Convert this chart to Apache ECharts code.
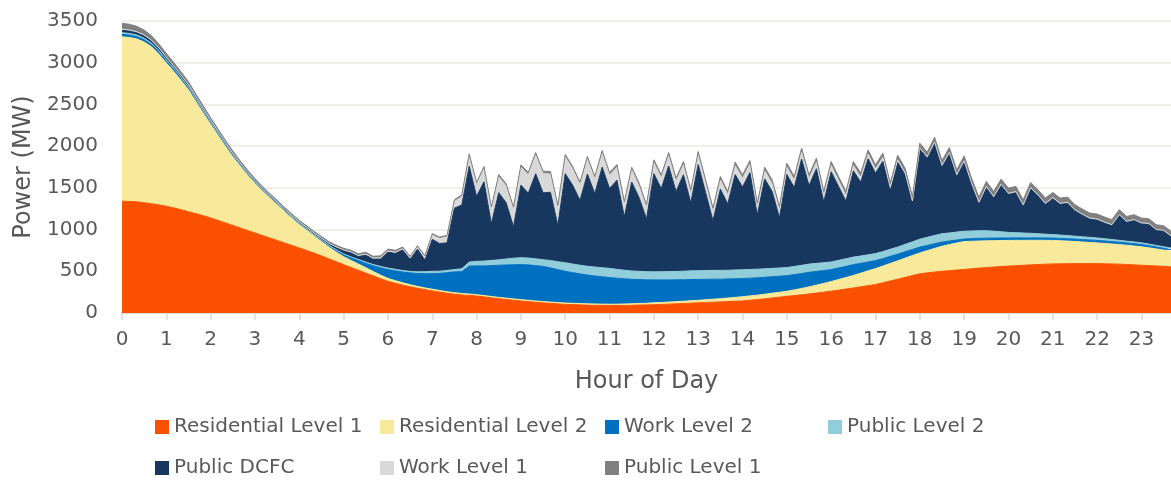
<!DOCTYPE html>
<html>
<head>
<meta charset="utf-8">
<script src="https://cdn.jsdelivr.net/npm/echarts@6/dist/echarts.min.js"></script>
<style>
  html, body { margin: 0; padding: 0; background: #ffffff; }
  #chart { width: 1171px; height: 483px; }
</style>
</head>
<body>
<div id="chart"></div>
<script>
// Charging load by segment, 10-minute steps from 0:00 to 23:40 (MW)
const hourLabels = ['0','1','2','3','4','5','6','7','8','9','10','11','12','13','14','15','16','17','18','19','20','21','22','23'];

const residentialL1 = [
  1340,1337,1333,1322,1310,1296, 1280,1260,1238,1215,1191,1166, 1140,1110,1080,1050,1020,990,
  960,930,900,870,840,810, 780,750,718,685,650,615, 580,546,512,478,445,412,
  380,356,334,314,296,280, 265,251,237,225,217,211, 205,194,183,172,163,154,
  145,137,129,122,116,110, 105,101,98,95,93,91, 90,90,91,93,95,97,
  100,103,106,110,114,118, 122,126,130,133,137,141, 145,153,161,170,180,190,
  200,209,218,228,239,250, 262,274,287,300,314,328, 342,362,384,405,427,449,
  470,481,491,500,508,515, 522,530,538,545,551,557, 562,567,572,577,581,585,
  588,590,591,592,592,592, 592,590,588,585,581,577, 572,568,564,559,553
];
const residentialL2 = [
  1970,1966,1952,1926,1880,1805, 1717,1635,1550,1460,1345,1232, 1123,1020,920,825,742,665,
  595,535,480,430,378,328, 282,245,207,172,140,115, 95,84,75,65,52,42,
  35,32,28,25,23,21, 20,19,18,18,17,16, 15,15,15,15,15,15,
  15,15,15,15,15,15, 15,15,15,15,15,15, 15,16,17,18,19,20,
  22,23,25,26,27,29, 30,33,35,38,42,46, 50,52,53,55,57,58,
  60,68,76,85,95,105, 115,127,138,150,163,177, 190,200,210,220,230,240,
  250,266,283,300,312,324, 335,330,325,320,316,312, 308,304,299,295,291,286,
  282,276,271,265,259,254, 248,244,239,235,231,226, 222,213,204,195,187
];
const workL2 = [
  30,29,29,28,27,26, 25,24,23,22,20,19, 18,17,16,15,14,13,
  12,12,11,11,11,10, 10,11,12,14,17,21, 25,33,44,55,70,88,
  105,118,130,142,155,170, 187,205,228,250,262,335, 345,355,370,385,398,410,
  420,425,424,422,410,395, 380,368,356,345,336,328, 320,311,302,293,287,281,
  275,271,266,262,258,254, 250,245,240,235,229,224, 218,213,208,203,198,193,
  188,184,179,175,165,154, 143,139,134,130,118,107, 96,90,85,80,77,73,
  70,63,57,50,43,36, 30,31,32,32,31,30, 29,29,29,28,28,28,
  28,28,29,29,29,30, 30,30,29,29,28,28, 27,26,24,22,20
];
const publicL2 = [
  20,19,18,18,17,16, 15,14,13,12,11,11, 10,9,9,8,8,7,
  7,7,6,6,6,5, 5,5,5,6,6,7, 8,9,10,12,14,16,
  18,18,17,18,20,24, 28,26,27,28,35,48, 55,58,62,65,72,78,
  83,82,81,80,88,95, 102,103,104,105,107,109, 110,106,103,100,98,97,
  96,97,99,100,102,104, 105,105,106,105,104,105, 105,104,103,102,100,99,
  97,97,98,98,96,94, 92,91,91,90,88,86, 84,84,85,85,88,91,
  95,97,99,100,97,95, 93,92,91,90,83,75, 67,63,59,55,51,46,
  42,40,37,35,33,31, 29,27,24,22,21,21, 20,19,18,18,18
];
const publicDCFC = [
  30,30,29,28,26,24, 22,21,20,19,18,17, 15,14,14,13,12,12,
  11,11,10,10,10,11, 12,13,15,17,20,30, 42,52,40,86,65,91,
  192,191,248,148,273,139, 383,332,331,736,764,1148, 777,951,440,805,674,377,
  870,778,1020,802,818,435, 1068,946,778,1105,881,1205, 957,1069,641,1065,883,633,
  1177,998,1266,959,1156,815, 1273,935,595,974,796,1143, 991,1161,650,1077,923,601,
  1116,945,1274,941,1134,729, 1081,886,691,1034,886,1152, 964,1084,706,1017,837,470,
  1080,951,1106,807,951,675, 832,562,331,518,403,559, 459,482,326,538,454,360,
  433,371,390,307,263,222, 218,190,170,300,230,260, 231,239,184,189,139
];
const workL1 = [
  12,12,11,11,10,9, 8,8,7,7,6,6, 5,5,5,4,4,4,
  4,4,4,3,3,3, 3,3,3,4,4,5, 6,7,8,10,12,14,
  15,14,13,12,20,35, 50,60,70,80,100,125, 140,155,172,190,200,208,
  215,220,225,230,220,210, 200,193,187,180,173,167, 160,155,150,145,140,135,
  130,127,124,122,120,118, 115,113,111,110,108,107, 105,103,100,98,95,93,
  90,88,85,83,80,78, 75,71,67,63,59,55, 50,45,38,30,25,20,
  15,14,14,13,13,12, 12,12,11,11,11,10, 10,10,10,10,10,10,
  10,10,10,9,9,9, 9,9,9,8,8,8, 8,8,8,8,8
];
const publicL1 = [
  70,68,64,58,53,49, 45,42,39,36,34,32, 30,29,27,26,24,23,
  22,21,21,20,19,19, 18,18,18,19,19,20, 20,20,21,21,22,22,
  22,22,21,20,20,19, 18,18,19,20,22,25, 28,28,28,28,28,28,
  28,28,29,29,29,30, 30,30,31,31,31,32, 32,33,33,34,35,35,
  36,37,37,38,39,39, 40,40,41,41,41,42, 42,42,43,43,44,44,
  45,45,46,46,47,47, 48,48,49,49,49,50, 50,51,52,53,53,54,
  55,56,57,58,59,59, 60,60,61,61,62,62, 62,62,62,62,62,62,
  62,62,61,61,61,60, 60,60,59,59,59,58, 58,57,56,55,55
];

const seriesNames = ['Residential Level 1','Residential Level 2','Work Level 2','Public Level 2','Public DCFC','Work Level 1','Public Level 1'];
const seriesColors = ['#FA5000','#F8EA9A','#0070C0','#92CDDC','#17375E','#D9D9D9','#808080'];
const seriesData = [residentialL1, residentialL2, workL2, publicL2, publicDCFC, workL1, publicL1];

// time-of-day categories, one every 10 minutes
const times = [];
for (let h = 0; h < 24; h++) {
  for (let m = 0; m < 60; m += 10) {
    if (times.length < residentialL1.length) times.push(h + ':' + (m < 10 ? '0' + m : m));
  }
}

const FONT = 'DejaVu Sans';
const TEXT = '#595959';
const onHour = (i) => i % 6 === 0;

// legend laid out as a two-row grid of fixed columns
const legendCols = [155, 380, 605, 828];
const legendRows = [417, 458];
const legends = seriesNames.map((name, i) => ({
  data: [name],
  left: legendCols[i % 4],
  top: legendRows[Math.floor(i / 4)],
  padding: 0,
  itemWidth: 14,
  itemHeight: 14,
  icon: 'rect',
  selectedMode: false,
  textStyle: { fontFamily: FONT, fontSize: 20, color: TEXT, padding: [0, 0, 0, 0] }
}));

const chart = echarts.init(document.getElementById('chart'), null, { renderer: 'canvas' });
chart.setOption({
  animation: false,
  backgroundColor: '#ffffff',
  grid: { left: 122, right: 0, top: 21, bottom: 170, containLabel: false },
  legend: legends,
  xAxis: {
    type: 'category',
    data: times,
    boundaryGap: false,
    name: 'Hour of Day',
    nameLocation: 'middle',
    nameGap: 57,
    nameTextStyle: { fontFamily: FONT, fontSize: 24, color: TEXT },
    axisLine: { show: true, lineStyle: { color: '#d9d9d9', width: 1.5 } },
    axisTick: { show: true, interval: onHour, length: 7, lineStyle: { color: '#d9d9d9', width: 1.5 } },
    axisLabel: {
      interval: onHour,
      margin: 17,
      fontFamily: FONT, fontSize: 20, color: TEXT,
      formatter: (v, i) => hourLabels[i / 6]
    },
    splitLine: { show: false }
  },
  yAxis: {
    type: 'value',
    min: 0, max: 3500, interval: 500,
    name: 'Power (MW)',
    nameLocation: 'middle',
    nameGap: 86,
    nameTextStyle: { fontFamily: FONT, fontSize: 24, color: TEXT },
    axisLine: { show: false },
    axisTick: { show: false },
    axisLabel: { margin: 24, fontFamily: FONT, fontSize: 20, color: TEXT, formatter: (v) => String(v) },
    splitLine: { show: true, lineStyle: { color: '#ECE9E0', width: 1.5 } }
  },
  series: seriesNames.map((name, i) => ({
    name: name,
    type: 'line',
    stack: 'load',
    data: seriesData[i],
    showSymbol: false,
    symbol: 'none',
    color: seriesColors[i],
    lineStyle: { width: 1, color: seriesColors[i] },
    areaStyle: { color: seriesColors[i], opacity: 1 },
    emphasis: { disabled: true }
  }))
});
</script>
</body>
</html>
